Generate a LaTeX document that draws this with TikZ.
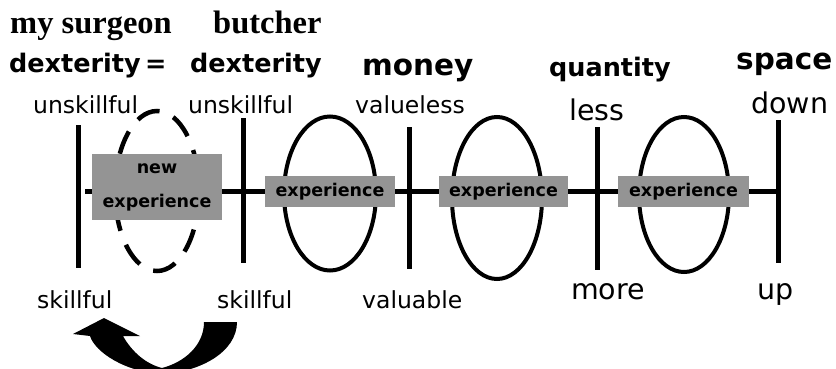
\documentclass[tikz,border=0pt]{standalone}
\usepackage{fontspec}
\setmainfont{DejaVu Sans}
\newfontfamily\headserif{Liberation Serif}
\usetikzlibrary{positioning}
\tikzset{
    scalebar/.style={
    line width=5pt
    },
    scaleline/.style={
    line width=5pt
    },
    ring/.style={
    line width=4pt
    },
    newring/.style={
    line width=4.5pt,dash pattern=on 24pt off 15pt
    },
    expbox/.style={
    rectangle,fill=black!42,inner sep=0pt,align=center,
    font=\bfseries\fontsize{17.5}{20}\selectfont
    },
    pole/.style={
    anchor=base west,inner sep=0pt,font=\fontsize{23.5}{28}\selectfont
    },
    bigpole/.style={
    pole,font=\fontsize{28.5}{33}\selectfont
    },
    field/.style={
    anchor=base west,inner sep=0pt,font=\bfseries\fontsize{25.5}{30}\selectfont
    },
    bigfield/.style={
    field,font=\bfseries\fontsize{29.5}{34}\selectfont
    },
    who/.style={
    anchor=base west,inner sep=0pt,font=\headserif\bfseries\fontsize{32.5}{38}\selectfont
    },
}

\begin{document}
\begin{tikzpicture}[x=1pt, y=-1pt]
   \useasboundingbox (0,0) rectangle (836,368);

   % who is compared
   \node[who] (surgeon) at (10,33) {my surgeon};
   \node[who] (butcher) at (213,33) {butcher};

   % fields
   \node[field] (dexL) at (9,72) {dexterity};
   \node[field] (eq) at (145,72) {=};
   \node[field] (dexR) at (190,72) {dexterity};
   \node[bigfield] (money) at (362,75) {money};
   \node[field] (quantity) at (549,76) {quantity};
   \node[bigfield] (space) at (736,69) {space};

   % upper poles
   \node[pole] (unskL) at (33,113) {unskillful};
   \node[pole] (unskR) at (188,113) {unskillful};
   \node[pole] (valueless) at (355,113) {valueless};
   \node[bigpole] (less) at (569,120) {less};
   \node[bigpole] (down) at (751,113) {down};

   % lower poles
   \node[pole] (skL) at (37,308) {skillful};
   \node[pole] (skR) at (217,308) {skillful};
   \node[pole] (valuable) at (362,308) {valuable};
   \node[bigpole] (more) at (571,299) {more};
   \node[bigpole] (up) at (757,299) {up};

   % scale line and the five bars
   \coordinate (lineL) at (85,191);
   \coordinate (lineR) at (778,191);
   \draw[scaleline] (lineL) -- (lineR);
   \draw[scalebar] (78,125) -- (78,268);
   \draw[scalebar] (243,118) -- (243,263);
   \draw[scalebar] (409,127) -- (409,269);
   \draw[scalebar] (597,127) -- (597,270);
   \draw[scalebar] (778,120) -- (778,263);

   % rings
   \draw[newring] (157,191) ellipse [x radius=42, y radius=80];
   \draw[ring] (330,193.5) ellipse [x radius=46, y radius=77];
   \draw[ring] (497,198) ellipse [x radius=45, y radius=81];
   \draw[ring] (684,194.5) ellipse [x radius=45, y radius=77.5];

   % experience boxes
   \node[expbox, minimum width=130pt, minimum height=66pt,
         font=\bfseries\fontsize{17.5}{34}\selectfont] (newexp) at (157,187) {new\\experience};
   \node[expbox, minimum width=130pt, minimum height=31pt] (exp1) at (330,191.5) {experience};
   \node[expbox, minimum width=129pt, minimum height=31pt] (exp2) at (503.5,191.5) {experience};
   \node[expbox, minimum width=131pt, minimum height=31pt] (exp3) at (683.5,191.5) {experience};

   % turning arrow
   \fill (237,322) .. controls (237,352) and (200,372) .. (162,374)
         .. controls (125,372) and (95,352) .. (90,336) -- (73,334) -- (104,318)
         -- (140,336) -- (123,336) .. controls (132,352) and (146,364) .. (162,368)
         .. controls (185,362) and (204,345) .. (204,322) -- cycle;
\end{tikzpicture}
\end{document}
